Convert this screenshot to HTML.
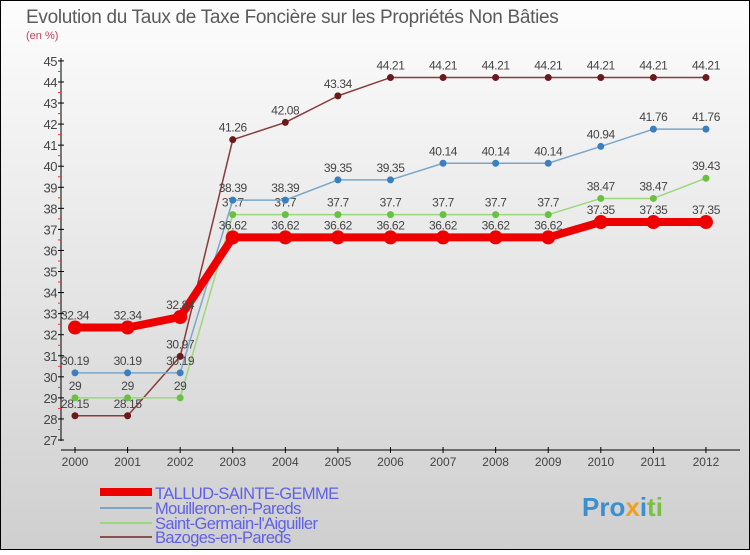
<!DOCTYPE html>
<html><head><meta charset="utf-8"><style>
body{margin:0}
#c{width:750px;height:550px;position:relative;font-family:"Liberation Sans",sans-serif}
</style></head><body>
<div id="c">
<svg id="s" width="750" height="550" xmlns="http://www.w3.org/2000/svg">
<defs><linearGradient id="bg" x1="0" y1="0" x2="0" y2="1"><stop offset="0" stop-color="#fdfdfd"/><stop offset="1" stop-color="#cfcfcf"/></linearGradient></defs>
<rect x="0.5" y="0.5" width="749" height="549" fill="url(#bg)" stroke="#000"/>
<text x="26" y="23" font-size="19" letter-spacing="-0.3" fill="#5b5b5b">Evolution du Taux de Taxe Foncière sur les Propriétés Non Bâties</text>
<text x="26" y="39" font-size="11" fill="#c04060">(en %)</text>
<g id="axes"></g><g id="series"></g>
<g letter-spacing="-0.6">
<rect x="100" y="488" width="52" height="8" fill="#e00"/>
<text x="155" y="499" font-size="16.5" fill="#6060e8">TALLUD-SAINTE-GEMME</text>
<rect x="100" y="507" width="52" height="2" fill="#7aa7c9"/>
<text x="155" y="514" font-size="16.5" fill="#6060e8">Mouilleron-en-Pareds</text>
<rect x="100" y="522" width="52" height="2" fill="#9ad87a"/>
<text x="155" y="529" font-size="16.5" fill="#6060e8">Saint-Germain-l'Aiguiller</text>
<rect x="100" y="536" width="52" height="2" fill="#8a5050"/>
<text x="155" y="543" font-size="16.5" fill="#6060e8">Bazoges-en-Pareds</text>
</g>
<text x="582" y="516" font-size="26" font-weight="bold" fill="#3a8fd0">Pro<tspan fill="#f0a020">x</tspan>i<tspan fill="#7ac040">ti</tspan></text>
</svg>
</div>
<script>
const years=[2000,2001,2002,2003,2004,2005,2006,2007,2008,2009,2010,2011,2012];
const tallud=[32.34,32.34,32.84,36.62,36.62,36.62,36.62,36.62,36.62,36.62,37.35,37.35,37.35];
const mouilleron=[30.19,30.19,30.19,38.39,38.39,39.35,39.35,40.14,40.14,40.14,40.94,41.76,41.76];
const saintGermain=[29,29,29,37.7,37.7,37.7,37.7,37.7,37.7,37.7,38.47,38.47,39.43];
const bazoges=[28.15,28.15,30.97,41.26,42.08,43.34,44.21,44.21,44.21,44.21,44.21,44.21,44.21];
const yTicks=[27,28,29,30,31,32,33,34,35,36,37,38,39,40,41,42,43,44,45];
const NS="http://www.w3.org/2000/svg";
const xs=i=>75+i*52.58;
const ys=v=>440-(v-27)*21.06;
function mk(t,a,p){const e=document.createElementNS(NS,t);for(const k in a)e.setAttribute(k,a[k]);p.appendChild(e);return e;}
const ax=document.getElementById('axes');
let e=mk('line',{x1:61,y1:58,x2:61,y2:441,stroke:'#000'},ax);


e=mk('line',{x1:61,y1:450,x2:740,y2:450,stroke:'#000'},ax);


yTicks.forEach(v=>{const y=ys(v);
mk('line',{x1:58,y1:y,x2:64,y2:y,stroke:'#000'},ax);
if(v<45)mk('line',{x1:58,y1:y-10.5,x2:61,y2:y-10.5,stroke:'#e33'},ax);
const t=mk('text',{x:57,y:y+5,'font-size':13,'text-anchor':'end',fill:'#444','letter-spacing':-0.5},ax);t.textContent=v;

});
years.forEach((yr,i)=>{const x=xs(i);
mk('line',{x1:x,y1:447,x2:x,y2:453,stroke:'#000'},ax);
const t=mk('text',{x:x,y:466,'font-size':12,'text-anchor':'middle',fill:'#444'},ax);t.textContent=yr;

});
const sg=document.getElementById('series');
function draw(data,col,dot,w,r,name){const g=mk('g',{},sg);


mk('polyline',{points:data.map((v,i)=>xs(i)+','+ys(v)).join(' '),fill:'none',stroke:col,'stroke-width':w,'stroke-linejoin':'round'},g);
data.forEach((v,i)=>{const c=mk('circle',{cx:xs(i),cy:ys(v),r:r,fill:dot},g);


const t=mk('text',{x:xs(i),y:ys(v)-8,'font-size':12,'text-anchor':'middle',fill:'#444','letter-spacing':-0.4},g);t.textContent=v;

});}
draw(bazoges,'#8a3a3a','#6a1a1a',1.5,3.5,'series-bazoges');
draw(saintGermain,'#9ad87a','#6ac040',1.5,3.5,'series-saint-germain');
draw(mouilleron,'#7aa7c9','#3a80c0',1.5,3.5,'series-mouilleron');
draw(tallud,'#e00','#e00',8,7,'series-tallud');
</script>
</body></html>
